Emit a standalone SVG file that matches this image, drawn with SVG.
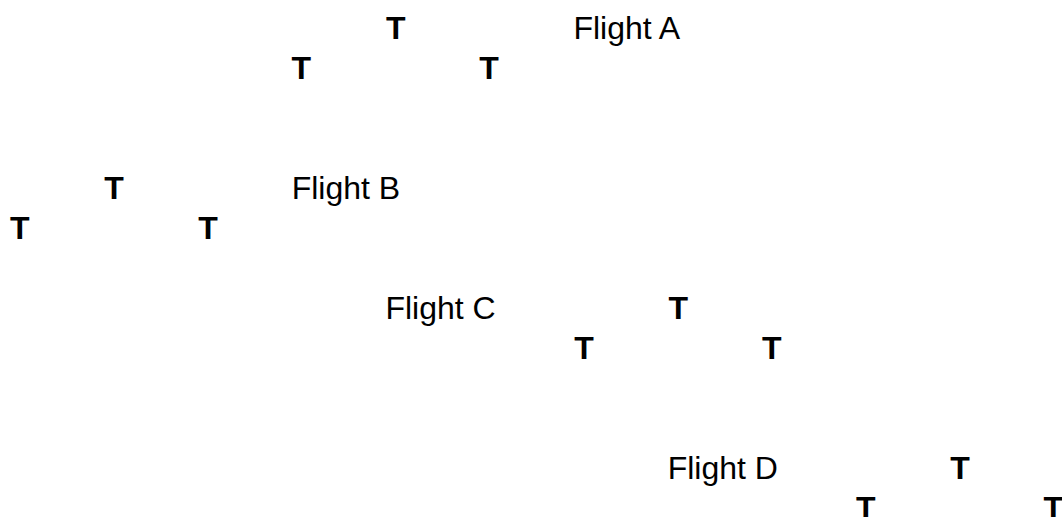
<svg xmlns="http://www.w3.org/2000/svg" width="1062" height="517" viewBox="0 0 1062 517">
<style>
text{font-family:"Liberation Sans",Arial,sans-serif;font-size:32px;fill:#000}
.t{font-weight:bold}
</style>
<rect width="1062" height="517" fill="#fff"/>
<g id="flightA">
<text x="386" y="39" class="t">T</text>
<text x="573.4" y="39">Flight A</text>
<text x="291.6" y="79" class="t">T</text>
<text x="479.3" y="79" class="t">T</text>
</g>
<g id="flightB">
<text x="104.3" y="199" class="t">T</text>
<text x="291.7" y="199">Flight B</text>
<text x="10" y="239" class="t">T</text>
<text x="198.3" y="239" class="t">T</text>
</g>
<g id="flightC">
<text x="385.4" y="319">Flight C</text>
<text x="668.6" y="319" class="t">T</text>
<text x="574.3" y="358.5" class="t">T</text>
<text x="762" y="358.5" class="t">T</text>
</g>
<g id="flightD">
<text x="667.7" y="479">Flight D</text>
<text x="950.3" y="479" class="t">T</text>
<text x="856" y="519" class="t">T</text>
<text x="1043.6" y="519" class="t">T</text>
</g>
<g id="connectors"></g>
</svg>
